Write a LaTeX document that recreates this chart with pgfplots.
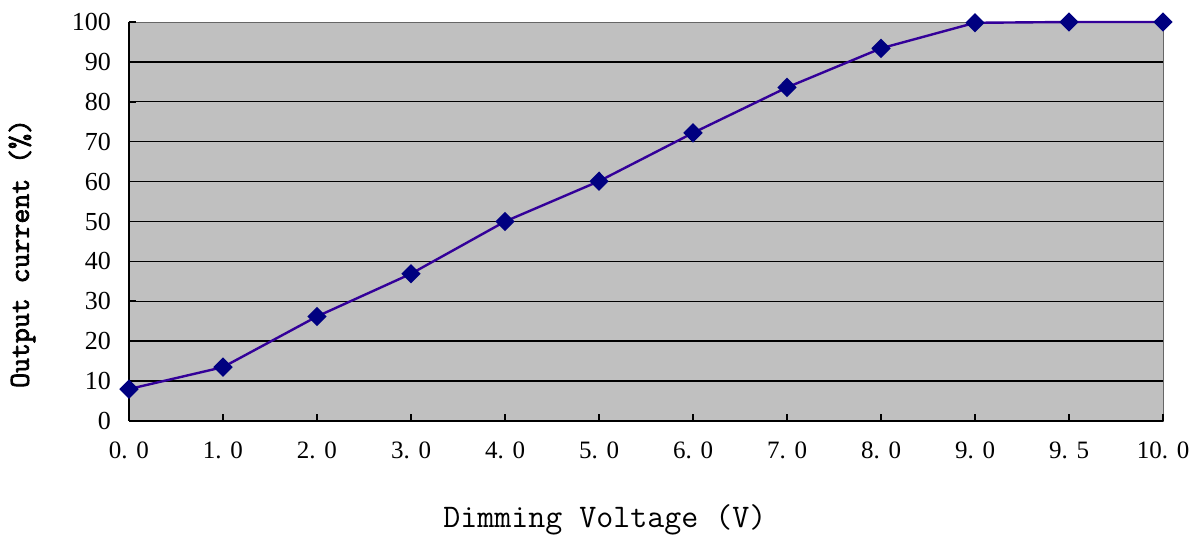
\documentclass[border=0pt]{standalone}
\usepackage{pgfplots}
\pgfplotsset{compat=1.18}
\usepackage{fontspec}
\setmainfont{Liberation Serif}
\newfontfamily\ylfont[FakeBold=2.5]{Latin Modern Mono}
\definecolor{plotbg}{RGB}{192,192,192}
\definecolor{linecol}{RGB}{51,0,153}
\definecolor{markcol}{RGB}{0,0,128}
\newcommand\dv[2]{#1.\hspace{0.35em}#2}

\begin{document}
\begin{tikzpicture}
  \begin{axis}[
      scale only axis,
      width=517pt,
      height=199.5pt,
      xmin=0, xmax=11,
      ymin=0, ymax=100,
      clip=false,
      axis background/.style={fill=plotbg, draw=gray!80!black},
      axis x line=bottom,
      axis y line=left,
      axis line style={-, black, line width=0.8pt},
      tick align=inside,
      major tick length=3.5pt,
      tick style={black, line width=0.8pt},
      xtick={0,...,11},
      xticklabels={\dv00,\dv10,\dv20,\dv30,\dv40,\dv50,\dv60,\dv70,\dv80,\dv90,\dv95,\dv{10}0},
      ytick={0,10,...,90},
      extra y ticks={100},
      extra y tick style={grid=none},
      ymajorgrids,
      grid style={black, line width=0.7pt},
      /pgf/number format/assume math mode=true,
      yticklabel style={font=\fontsize{13}{13}\selectfont, xshift=-5.5pt},
      xticklabel style={font=\fontsize{12.5}{12.5}\selectfont, yshift=-7pt},
      xlabel={\ttfamily\fontsize{16.5}{16.5}\selectfont Dimming Voltage (V)},
      xlabel style={at={(axis description cs:0.4603,-0.248)}, anchor=center},
      ylabel={\ylfont\fontsize{14.5}{14.5}\selectfont Output current (\%)},
      ylabel style={at={(axis description cs:-0.1035,0.42)}, anchor=center},
    ]
    \addplot[color=linecol, line width=1.2pt, mark=diamond*,
      mark size=4pt,
      mark options={fill=markcol, draw=markcol, xscale=1.33}]
      coordinates {
        (0,8)
        (1,13.5)
        (2,26.2)
        (3,36.9)
        (4,50)
        (5,60.1)
        (6,72.2)
        (7,83.6)
        (8,93.4)
        (9,99.8)
        (10,100)
        (11,100)
      };
    \coordinate (bl) at (rel axis cs:0,0);
  \end{axis}
  \pgfresetboundingbox
  \path (bl) ++(-64.5pt,-57pt) rectangle ++(594.5pt,267.5pt);
\end{tikzpicture}
\end{document}
